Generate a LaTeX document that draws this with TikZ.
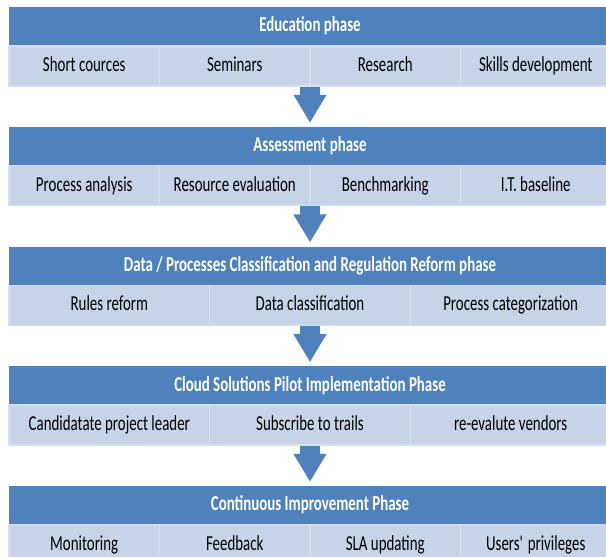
\documentclass[tikz,border=0pt]{standalone}
\usepackage{fontspec}
\setmainfont[FakeStretch=0.70]{Carlito}
\usetikzlibrary{arrows.meta}
\definecolor{phaseblue}{RGB}{79,129,189}
\definecolor{cellblue}{RGB}{199,211,230}
\definecolor{sepblue}{RGB}{214,223,238}
\begin{document}
\begin{tikzpicture}
  [x=1pt,y=1pt,
   phasebox/.style={rectangle,fill=phaseblue,text=white,minimum width=602pt,minimum height=38.7pt,
     inner sep=0pt,text height=13.7pt,text depth=3pt,font=\fontsize{21.3}{24}\selectfont\bfseries},
   cellfour/.style={rectangle,fill=cellblue,draw=sepblue,line width=1.2pt,minimum width=150.5pt,
     minimum height=40pt,inner sep=0pt,text height=13.7pt,text depth=3pt,font=\fontsize{21.3}{24}\selectfont},
   cellthree/.style={cellfour,minimum width=200.67pt},
   flow/.style={draw=phaseblue,line width=20pt,-{Triangle[length=28pt,width=31pt,fill=phaseblue]}}]
  \useasboundingbox (0,0) rectangle (606,557);
  % phase 1
  \node[phasebox] (h1) at (310,530.35) {Education phase};
  \node[cellfour] (c11) at (84.25,491) {Short cources};
  \node[cellfour] (c12) at (234.75,491) {Seminars};
  \node[cellfour] (c13) at (385.25,491) {Research};
  \node[cellfour] (c14) at (535.75,491) {Skills development};
  % phase 2
  \node[phasebox] (h2) at (310,410.65) {Assessment phase};
  \node[cellfour] (c21) at (84.25,371.3) {Process analysis};
  \node[cellfour] (c22) at (234.75,371.3) {Resource evaluation};
  \node[cellfour] (c23) at (385.25,371.3) {Benchmarking};
  \node[cellfour] (c24) at (535.75,371.3) {I.T. baseline};
  % phase 3
  \node[phasebox] (h3) at (310,290.95) {Data / Processes Classification and Regulation Reform phase};
  \node[cellthree] (c31) at (109.33,251.6) {Rules reform};
  \node[cellthree] (c32) at (310,251.6) {Data classification};
  \node[cellthree] (c33) at (510.67,251.6) {Process categorization};
  % phase 4
  \node[phasebox] (h4) at (310,171.25) {Cloud Solutions Pilot Implementation Phase};
  \node[cellthree] (c41) at (109.33,131.9) {Candidatate project leader};
  \node[cellthree] (c42) at (310,131.9) {Subscribe to trails};
  \node[cellthree] (c43) at (510.67,131.9) {re-evalute vendors};
  % phase 5
  \node[phasebox] (h5) at (310,51.55) {Continuous Improvement Phase};
  \node[cellfour] (c51) at (84.25,12.2) {Monitoring};
  \node[cellfour] (c52) at (234.75,12.2) {Feedback};
  \node[cellfour] (c53) at (385.25,12.2) {SLA updating};
  \node[cellfour] (c54) at (535.75,12.2) {Users\textquotesingle\ privileges};
  % block arrows between phases
  \draw[flow] (h1.south |- c12.south) -- ([yshift=4pt]h2.north);
  \draw[flow] (h2.south |- c22.south) -- ([yshift=4pt]h3.north);
  \draw[flow] (h3.south |- c32.south) -- ([yshift=4pt]h4.north);
  \draw[flow] (h4.south |- c42.south) -- ([yshift=4pt]h5.north);
\end{tikzpicture}
\end{document}
